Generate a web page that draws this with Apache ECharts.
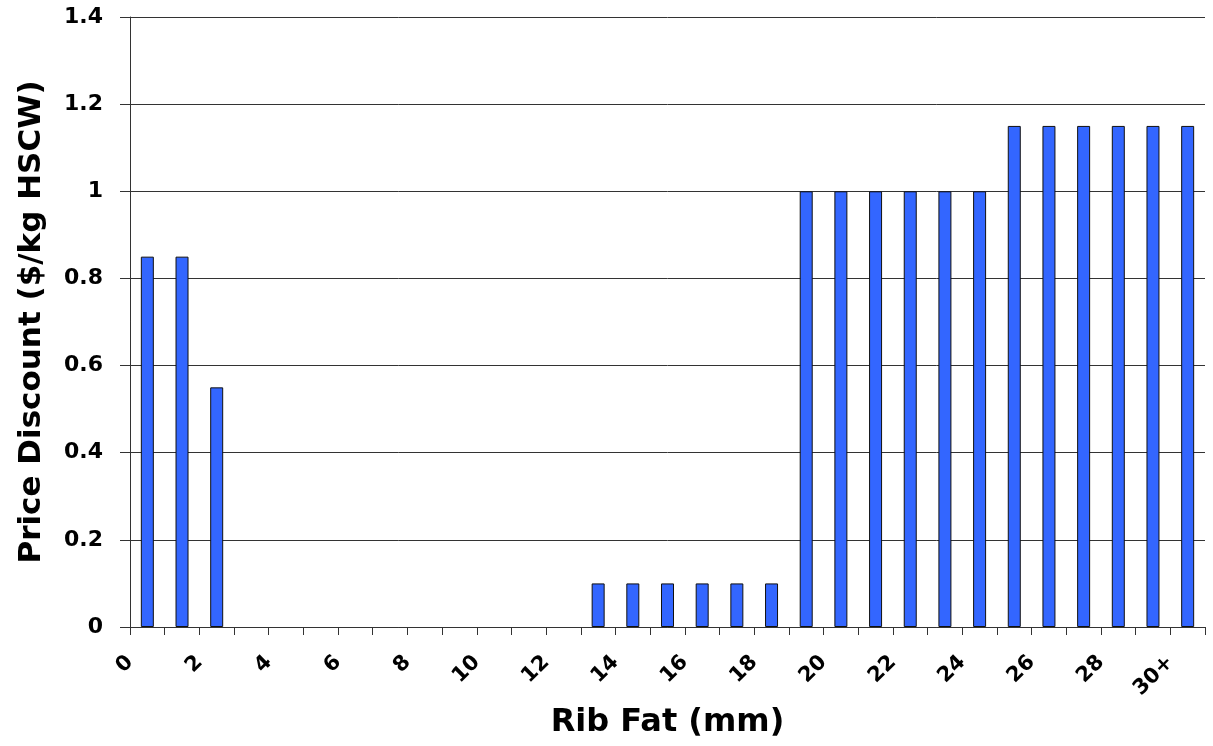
<!DOCTYPE html>
<html>
<head>
<meta charset="utf-8">
<style>
  html, body { margin: 0; padding: 0; background: #ffffff; }
  #chart { width: 1213px; height: 746px; }
</style>
<script src="https://cdn.jsdelivr.net/npm/echarts@6/dist/echarts.min.js"></script>
</head>
<body>
<div id="chart"></div>
<script>
// Categories: rib fat (mm), one bar each
const categories = ["0","1","2","3","4","5","6","7","8","9","10","11","12","13","14","15","16","17","18","19","20","21","22","23","24","25","26","27","28","29","30+"];
// Price discount ($/kg HSCW)
const discounts = [0.85, 0.85, 0.55, 0, 0, 0, 0, 0, 0, 0, 0, 0, 0,
                   0.1, 0.1, 0.1, 0.1, 0.1, 0.1,
                   1, 1, 1, 1, 1, 1,
                   1.15, 1.15, 1.15, 1.15, 1.15, 1.15];
// Tick labels shown on the x axis (every second boundary)
const xTickLabels = ["0","2","4","6","8","10","12","14","16","18","20","22","24","26","28","30+"];
const yTitle = "Price Discount ($/kg HSCW)";
const xTitle = "Rib Fat (mm)";

const FONT = "DejaVu Sans";
const barData = discounts.map(function (v) {
  return v === 0 ? { value: v, itemStyle: { borderWidth: 0 } } : v;
});

const chart = echarts.init(document.getElementById('chart'), null, { renderer: 'canvas' });
chart.setOption({
  backgroundColor: '#ffffff',
  animation: false,
  grid: { left: 130, right: 8, top: 17, bottom: 119, containLabel: false },
  xAxis: [
    {
      type: 'category',
      data: categories,
      boundaryGap: true,
      position: 'bottom',
      name: xTitle,
      nameLocation: 'middle',
      nameGap: 80,
      nameTextStyle: { fontFamily: FONT, fontWeight: 'bold', fontSize: 32, color: '#000', verticalAlign: 'top' },
      axisLine: { show: true, lineStyle: { color: '#333', width: 1 } },
      axisTick: { show: true, interval: 0, length: 8, inside: false, lineStyle: { color: '#333', width: 1 } },
      axisLabel: { show: false },
      splitLine: { show: false }
    },
    {
      type: 'value',
      position: 'bottom',
      min: 0,
      max: categories.length,
      interval: 2,
      axisLine: { show: false },
      axisTick: { show: false },
      splitLine: { show: false },
      axisLabel: {
        show: true,
        rotate: 45,
        margin: 32,
        showMaxLabel: false,
        fontFamily: FONT, fontWeight: 'bold', fontSize: 21, color: '#000',
        formatter: function (v) { const s = xTickLabels[Math.round(v / 2)]; return (v % 2 === 0 && s !== undefined) ? s : ''; }
      }
    }
  ],
  yAxis: {
    type: 'value',
    min: 0,
    max: 1.4,
    interval: 0.2,
    name: yTitle,
    nameLocation: 'middle',
    nameRotate: 90,
    nameGap: 83,
    nameTextStyle: { fontFamily: FONT, fontWeight: 'bold', fontSize: 31, color: '#000' },
    axisLine: { show: true, lineStyle: { color: '#333', width: 1 } },
    axisTick: { show: true, length: 10, inside: false, lineStyle: { color: '#333', width: 1 } },
    axisLabel: { margin: 27, fontFamily: FONT, fontWeight: 'bold', fontSize: 22, color: '#000' },
    splitLine: { show: true, lineStyle: { color: '#333', width: 1 } }
  },
  series: [{
    type: 'bar',
    xAxisIndex: 0,
    data: barData,
    barWidth: 13,
    itemStyle: { color: '#3366FF', borderColor: '#111', borderWidth: 1 }
  }]
});
</script>
</body>
</html>
